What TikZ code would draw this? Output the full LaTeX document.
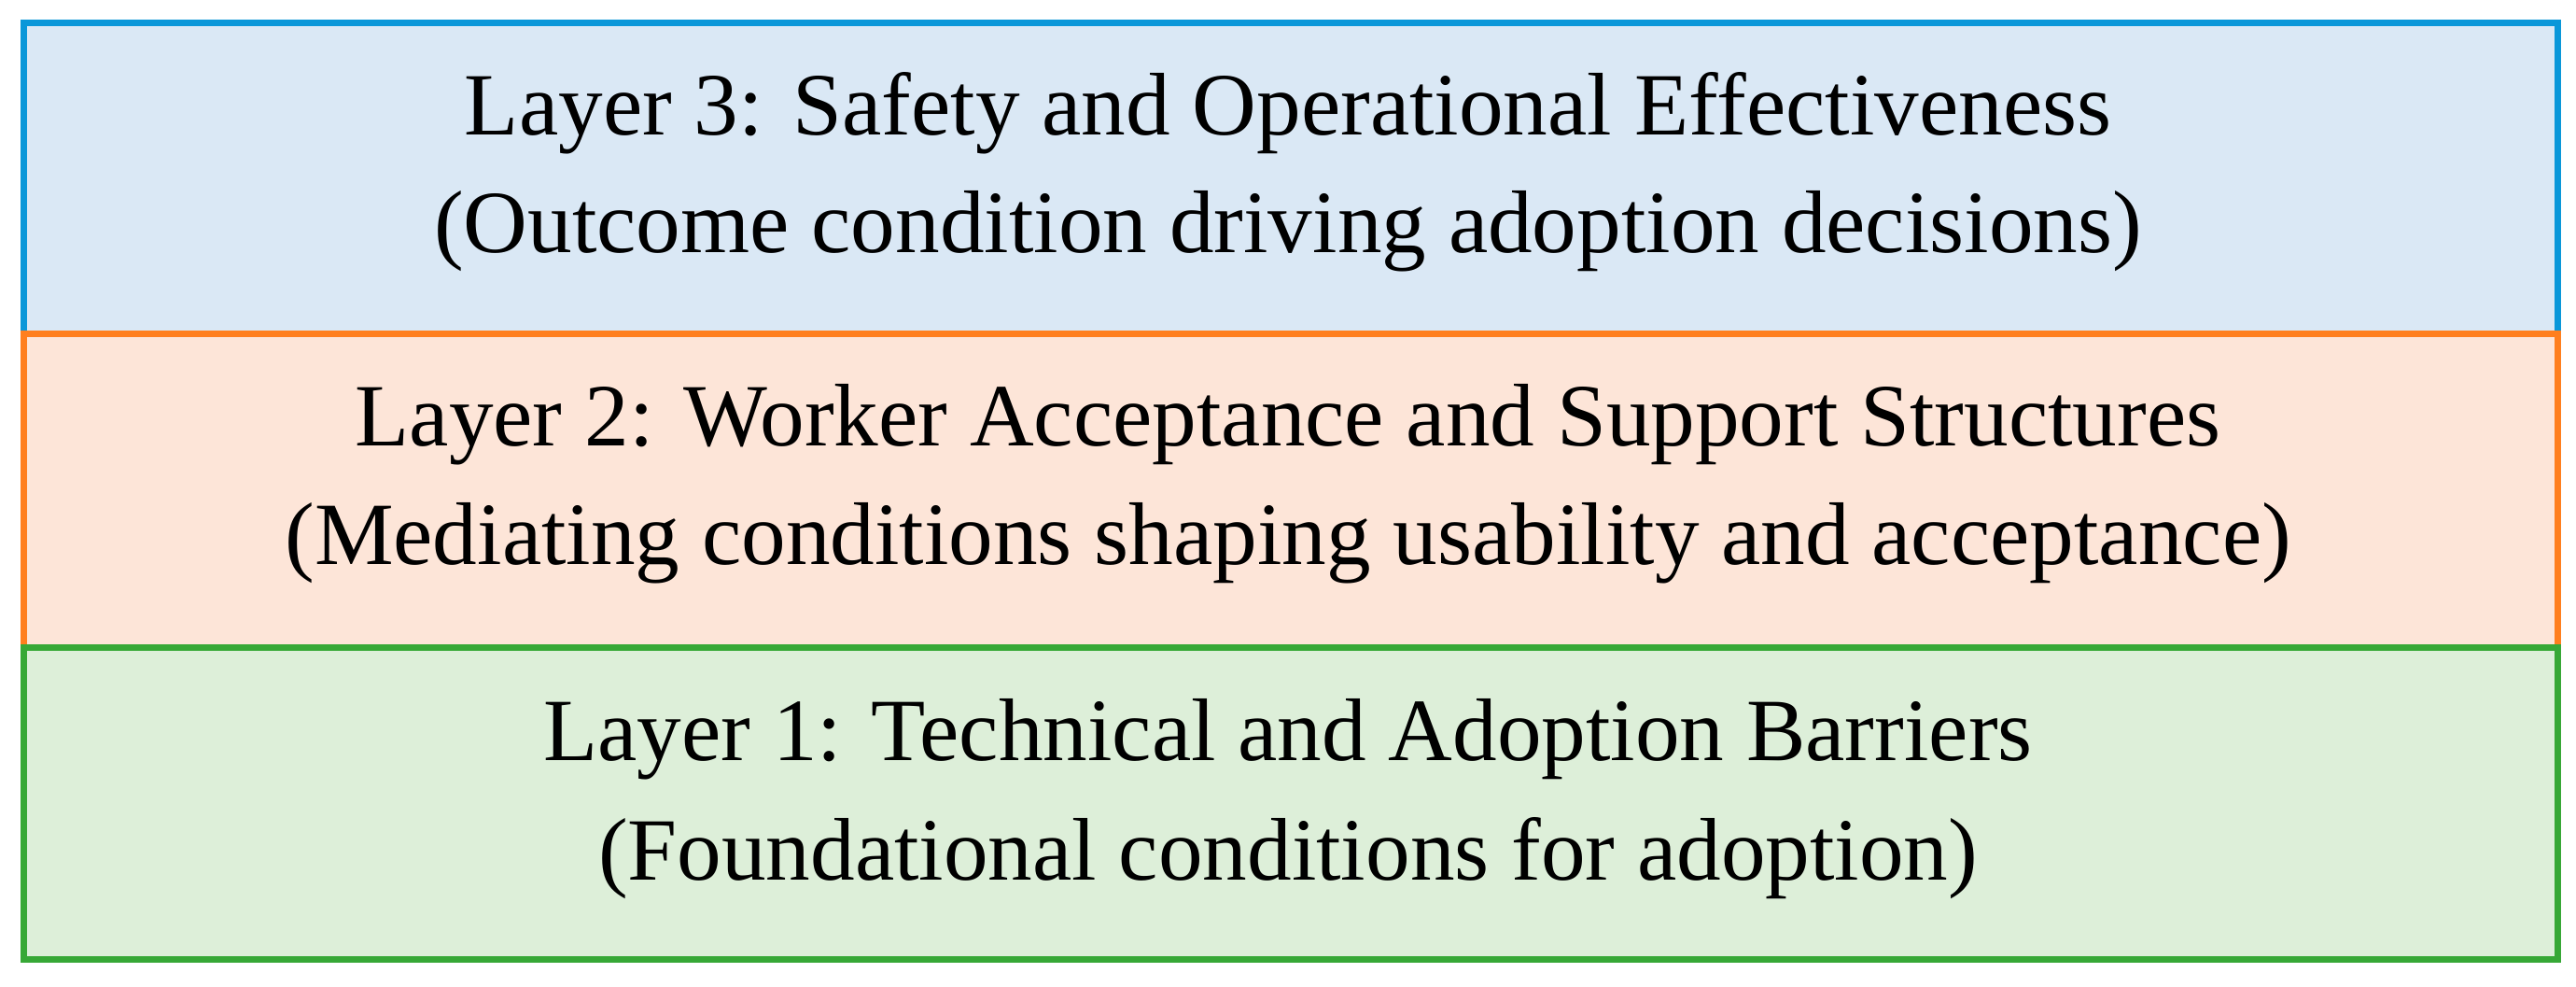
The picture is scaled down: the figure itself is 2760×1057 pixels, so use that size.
\documentclass[tikz,border=0pt]{standalone}
\usepackage{fontspec}
\setmainfont{Liberation Serif}
\definecolor{bBorder}{HTML}{0A97D9}
\definecolor{bFill}{HTML}{DAE8F5}
\definecolor{oBorder}{HTML}{FF7F1E}
\definecolor{oFill}{HTML}{FDE5D8}
\definecolor{gBorder}{HTML}{37A836}
\definecolor{gFill}{HTML}{DDEFD9}
\tikzset{
  layerbox/.style={line width=1.75pt},
  layertext/.style={anchor=base, inner sep=0pt, font=\fontsize{23.8}{30}\selectfont, text=black}
}
\begin{document}
\begin{tikzpicture}[x=0.25pt,y=-0.25pt]
\useasboundingbox (0,0) rectangle (2760,1057);
% boxes
\draw[layerbox, draw=bBorder, fill=bFill] (25,25) rectangle (2740,358);
\coordinate (b3) at (1380,25);
\draw[layerbox, draw=oBorder, fill=oFill] (25,358) rectangle (2740,694);
\coordinate (b2) at (1380,358);
\draw[layerbox, draw=gBorder, fill=gFill] (25,694) rectangle (2740,1027);
\coordinate (b1) at (1380,694);
% texts
\node[layertext] (t3a) at ([yshift=-30pt]b3) {Layer 3: Safety and Operational Effectiveness};
\node[layertext] (t3b) at ([yshift=-61.5pt]b3) {(Outcome condition driving adoption decisions)};
\node[layertext] (t2a) at ([yshift=-30pt]b2) {Layer 2: Worker Acceptance and Support Structures};
\node[layertext] (t2b) at ([yshift=-61.75pt]b2) {(Mediating conditions shaping usability and acceptance)};
\node[layertext] (t1a) at ([yshift=-30.25pt]b1) {Layer 1: Technical and Adoption Barriers};
\node[layertext] (t1b) at ([yshift=-62pt]b1) {(Foundational conditions for adoption)};
\end{tikzpicture}
\end{document}
